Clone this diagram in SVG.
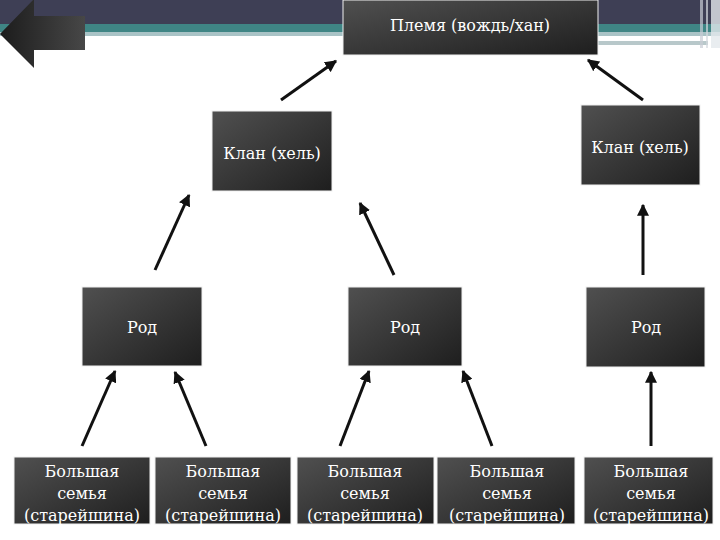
<svg xmlns="http://www.w3.org/2000/svg" width="720" height="540" viewBox="0 0 720 540" font-family="'DejaVu Serif', 'Liberation Serif', serif">
<defs>
<linearGradient id="g" x1="0" y1="0" x2="1" y2="1">
<stop offset="0" stop-color="#505050"/>
<stop offset="1" stop-color="#1e1e1e"/>
</linearGradient>
<linearGradient id="ga" x1="0" y1="0" x2="1" y2="0">
<stop offset="0" stop-color="#1c1c1c"/>
<stop offset="1" stop-color="#474747"/>
</linearGradient>
<marker id="ah" viewBox="0 0 10 10" refX="9" refY="5" markerWidth="4" markerHeight="4" orient="auto" markerUnits="strokeWidth">
<path d="M0,0 L10,5 L0,10 Z" fill="#111"/>
</marker>
<style>
.box{fill:url(#g);stroke:#f0f0f0;stroke-width:1}
.t{font-size:16px;fill:#fff;text-anchor:middle}
.c{stroke:#111;stroke-width:3;fill:none;marker-end:url(#ah)}
</style>
</defs>
<rect width="720" height="540" fill="#fff"/>
<g id="header">
<rect x="0" y="0" width="720" height="24" fill="#3e3f55"/>
<rect x="0" y="24" width="720" height="8" fill="#3f8585"/>
<rect x="0" y="32" width="720" height="4" fill="#a9c3c6"/>
<rect x="598" y="38" width="68" height="3" fill="#fff"/>
<rect x="598" y="41" width="110" height="4" fill="#b8c8ca"/>
<rect x="700" y="0" width="3" height="48" fill="#c8ccd4" opacity="0.7"/>
<rect x="706" y="0" width="2" height="48" fill="#d4d8de" opacity="0.7"/>
<rect x="711" y="0" width="9" height="48" fill="#e4e8ec" opacity="0.8"/>
</g>
<g id="back-arrow">
<polygon points="0,34 34,-1 34,16 85,16 85,50 34,50 34,68" fill="url(#ga)"/>
</g>
<g id="tribe">
<rect class="box" x="343" y="0" width="255" height="55"/>
<text class="t" x="470" y="31">Племя (вождь/хан)</text>
</g>
<g id="clan1">
<rect class="box" x="212" y="111" width="120" height="80"/>
<text class="t" x="272" y="159">Клан (хель)</text>
</g>
<g id="clan2">
<rect class="box" x="581" y="105" width="119" height="80"/>
<text class="t" x="640" y="153">Клан (хель)</text>
</g>
<g id="rod1">
<rect class="box" x="82" y="287" width="120" height="79"/>
<text class="t" x="142" y="333">Род</text>
</g>
<g id="rod2">
<rect class="box" x="348" y="287" width="114" height="79"/>
<text class="t" x="405" y="333">Род</text>
</g>
<g id="rod3">
<rect class="box" x="586" y="287" width="119" height="80"/>
<text class="t" x="646" y="333">Род</text>
</g>
<g id="fam1">
<rect class="box" x="14" y="457" width="136" height="67"/>
<text class="t" x="82" y="477">Большая</text>
<text class="t" x="82" y="499">семья</text>
<text class="t" x="82" y="521">(старейшина)</text>
</g>
<g id="fam2">
<rect class="box" x="155" y="457" width="136" height="67"/>
<text class="t" x="223" y="477">Большая</text>
<text class="t" x="223" y="499">семья</text>
<text class="t" x="223" y="521">(старейшина)</text>
</g>
<g id="fam3">
<rect class="box" x="297" y="457" width="137" height="67"/>
<text class="t" x="365" y="477">Большая</text>
<text class="t" x="365" y="499">семья</text>
<text class="t" x="365" y="521">(старейшина)</text>
</g>
<g id="fam4">
<rect class="box" x="437" y="457" width="138" height="67"/>
<text class="t" x="507" y="477">Большая</text>
<text class="t" x="507" y="499">семья</text>
<text class="t" x="507" y="521">(старейшина)</text>
</g>
<g id="fam5">
<rect class="box" x="584" y="457" width="129" height="67"/>
<text class="t" x="651" y="477">Большая</text>
<text class="t" x="651" y="499">семья</text>
<text class="t" x="651" y="521">(старейшина)</text>
</g>
<g id="connectors">
<line class="c" x1="281" y1="100" x2="336" y2="61"/>
<line class="c" x1="643" y1="100" x2="588" y2="60"/>
<line class="c" x1="155" y1="270" x2="189" y2="195"/>
<line class="c" x1="394" y1="275" x2="360" y2="203"/>
<line class="c" x1="643" y1="275" x2="643" y2="205"/>
<line class="c" x1="82" y1="446" x2="115" y2="371"/>
<line class="c" x1="206" y1="446" x2="175" y2="372"/>
<line class="c" x1="340" y1="446" x2="369" y2="371"/>
<line class="c" x1="492" y1="446" x2="463" y2="371"/>
<line class="c" x1="651" y1="446" x2="651" y2="372"/>
</g>
</svg>
